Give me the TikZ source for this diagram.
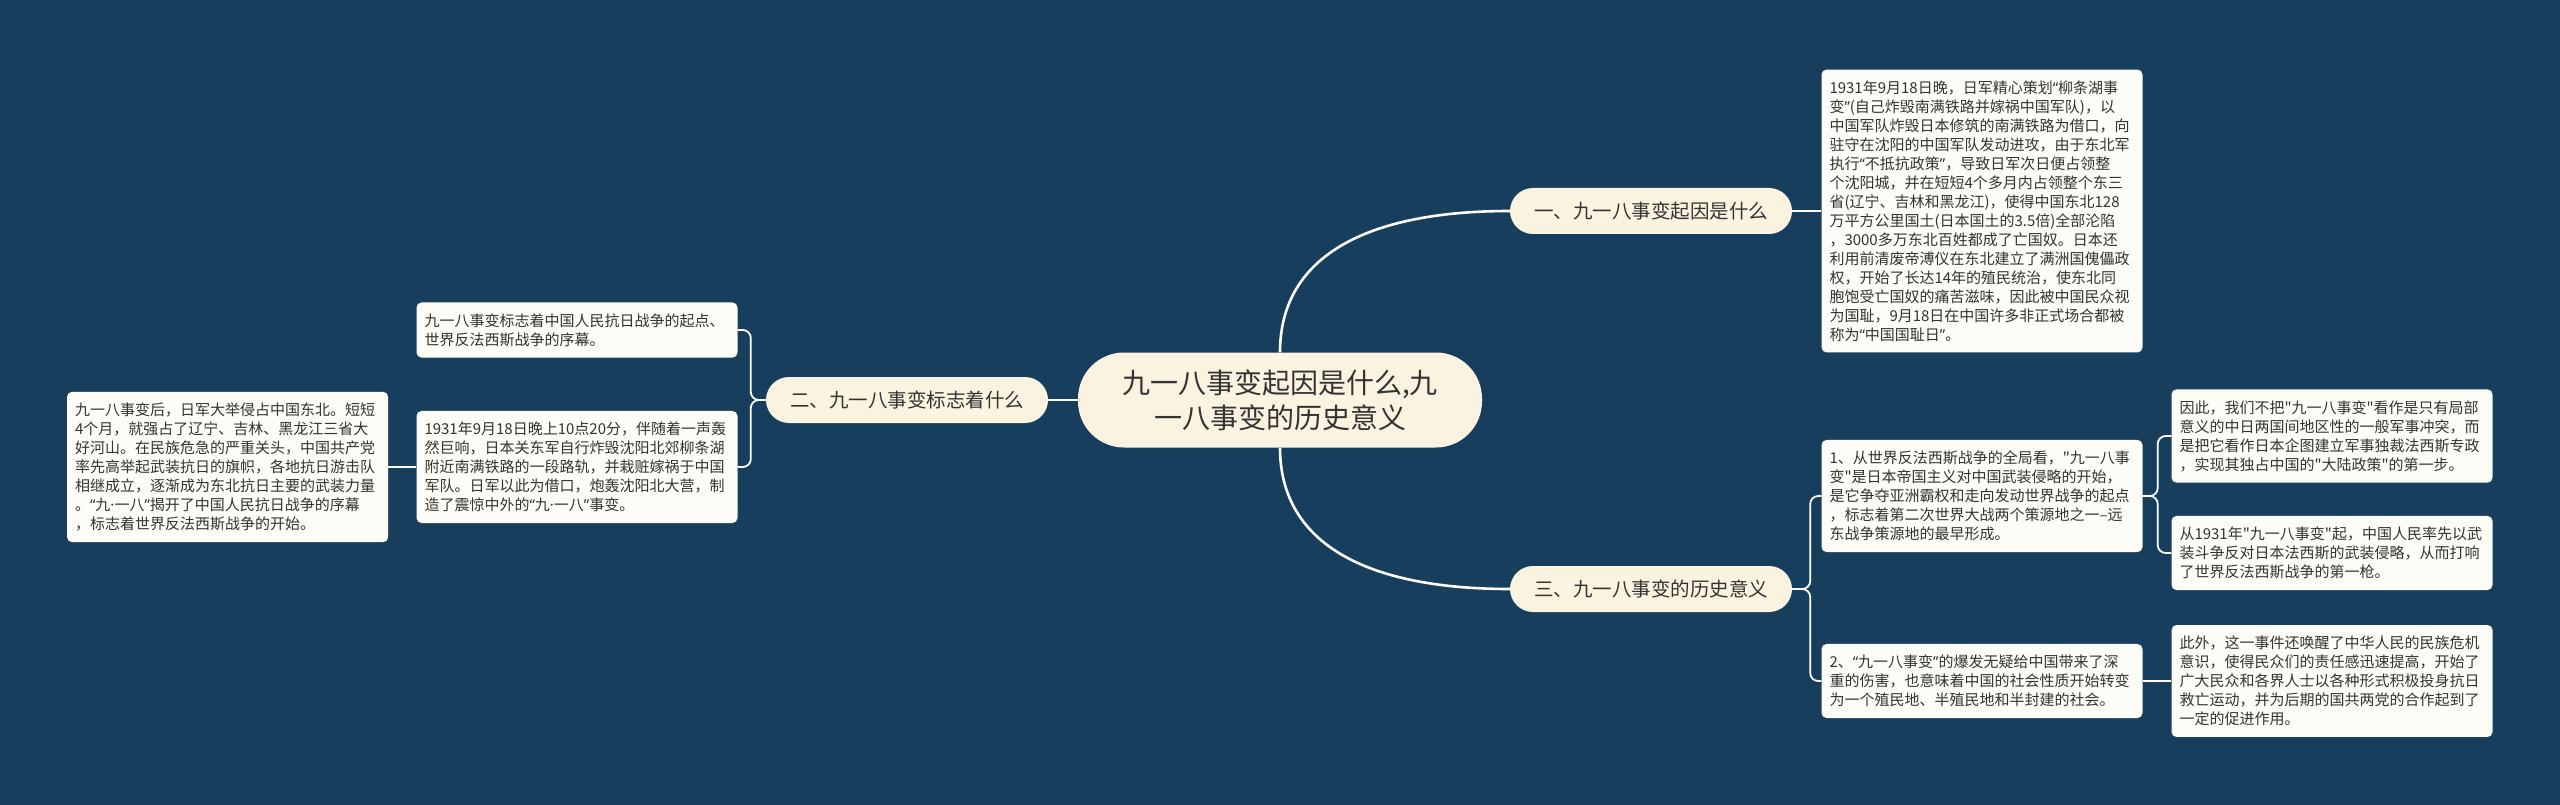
\documentclass[tikz,border=0pt]{standalone}
\usepackage{fontspec}
\setmainfont{Noto Sans CJK SC}[Ligatures=TeXOff]
\newfontfamily\westfont{Noto Sans}
\newcommand\openq{{\westfont “}}
\newcommand\closeq{{\westfont ”}}
\newcommand\middot{{\westfont ·}}
\usetikzlibrary{
  calc,
  positioning
}
\definecolor{mapNavy}{HTML}{183E5E}
\definecolor{mapInk}{HTML}{333333}
\definecolor{mapCream}{HTML}{FAF3E0}
\definecolor{mapPaper}{HTML}{FDFCF6}
\definecolor{mapLine}{HTML}{FFFFFF}
\tikzset{
  every node/.style={text=mapInk},
  topic/.style={
    fill=mapCream,
    rounded corners=46pt,
    minimum width=404pt,
    minimum height=95pt,
    align=center,
    font=\fontsize{28}{35}\selectfont
  },
  branch/.style={
    fill=mapCream,
    rounded corners=23pt,
    minimum width=282pt,
    minimum height=46pt,
    font=\fontsize{19.5}{23}\selectfont
  },
  leaf/.style={
    fill=mapPaper,
    rounded corners=5pt,
    text width=305pt,
    inner xsep=8pt,
    inner ysep=11pt,
    align=left,
    font=\fontsize{15}{19}\selectfont
  },
  link/.style={
    line width=2.6pt,
    draw=mapLine
  },
  twig/.style={
    line width=1.8pt,
    draw=mapLine,
    rounded corners=8pt
  }
}

\begin{document}
\begin{tikzpicture}[x=1pt,y=-1pt]
  \fill[mapNavy] (0,0) rectangle (2560,805);
  \useasboundingbox (0,0) rectangle (2560,805);

  % centre and main branches
  \node[topic] (root) at (1280,400) {九一八事变起因是什么,九\\一八事变的历史意义};
  \node[branch] (cause) at (1651,211) {一、九一八事变起因是什么};
  \node[branch] (meaning) at (1651,589) {三、九一八事变的历史意义};
  \node[branch] (sign) at (907,400) {二、九一八事变标志着什么};

  % right side
  \node[leaf] (causeText) at (1982,211) {
    1931年9月18日晚，日军精心策划\openq 柳条湖事\\
    变\closeq(自己炸毁南满铁路并嫁祸中国军队)，以\\
    中国军队炸毁日本修筑的南满铁路为借口，向\\
    驻守在沈阳的中国军队发动进攻，由于东北军\\
    执行\openq 不抵抗政策\closeq ，导致日军次日便占领整\\
    个沈阳城，并在短短4个多月内占领整个东三\\
    省(辽宁、吉林和黑龙江)，使得中国东北128\\
    万平方公里国土(日本国土的3.5倍)全部沦陷\\
    ，3000多万东北百姓都成了亡国奴。日本还\\
    利用前清废帝溥仪在东北建立了满洲国傀儡政\\
    权，开始了长达14年的殖民统治，使东北同\\
    胞饱受亡国奴的痛苦滋味，因此被中国民众视\\
    为国耻，9月18日在中国许多非正式场合都被\\
    称为\openq 中国国耻日\closeq 。
  };
  \node[leaf] (worldWar) at (1982,496) {
    1、从世界反法西斯战争的全局看，"九一八事\\
    变"是日本帝国主义对中国武装侵略的开始，\\
    是它争夺亚洲霸权和走向发动世界战争的起点\\
    ，标志着第二次世界大战两个策源地之一–远\\
    东战争策源地的最早形成。
  };
  \node[leaf] (society) at (1982,681) {
    2、\openq 九一八事变\closeq 的爆发无疑给中国带来了深\\
    重的伤害，也意味着中国的社会性质开始转变\\
    为一个殖民地、半殖民地和半封建的社会。
  };
  \node[leaf] (firstStep) at (2332,436) {
    因此，我们不把"九一八事变"看作是只有局部\\
    意义的中日两国间地区性的一般军事冲突，而\\
    是把它看作日本企图建立军事独裁法西斯专政\\
    ，实现其独占中国的"大陆政策"的第一步。
  };
  \node[leaf] (firstShot) at (2332,553) {
    从1931年"九一八事变"起，中国人民率先以武\\
    装斗争反对日本法西斯的武装侵略，从而打响\\
    了世界反法西斯战争的第一枪。
  };
  \node[leaf] (awaken) at (2332,681) {
    此外，这一事件还唤醒了中华人民的民族危机\\
    意识，使得民众们的责任感迅速提高，开始了\\
    广大民众和各界人士以各种形式积极投身抗日\\
    救亡运动，并为后期的国共两党的合作起到了\\
    一定的促进作用。
  };

  % left side
  \node[leaf] (start) at (577,330) {
    九一八事变标志着中国人民抗日战争的起点、\\
    世界反法西斯战争的序幕。
  };
  \node[leaf] (night) at (577,467) {
    1931年9月18日晚上10点20分，伴随着一声轰\\
    然巨响，日本关东军自行炸毁沈阳北郊柳条湖\\
    附近南满铁路的一段路轨，并栽赃嫁祸于中国\\
    军队。日军以此为借口，炮轰沈阳北大营，制\\
    造了震惊中外的\openq 九\middot 一八\closeq 事变。
  };
  \node[leaf, left=28pt of night] (after) {
    九一八事变后，日军大举侵占中国东北。短短\\
    4个月，就强占了辽宁、吉林、黑龙江三省大\\
    好河山。在民族危急的严重关头，中国共产党\\
    率先高举起武装抗日的旗帜，各地抗日游击队\\
    相继成立，逐渐成为东北抗日主要的武装力量\\
    。\openq 九\middot 一八\closeq 揭开了中国人民抗日战争的序幕\\
    ，标志着世界反法西斯战争的开始。
  };

  % connectors
  \draw[link] (root.north) .. controls +(0,-92) and +(-150,0) .. (cause.west);
  \draw[link] (root.south) .. controls +(0,92) and +(-150,0) .. (meaning.west);
  \draw[link] (root.west) -- (sign.east);
  \draw[twig] (cause.east) -- (causeText.west);
  \draw[twig] (meaning.east) -- ++(18,0) |- (worldWar.west);
  \draw[twig] (meaning.east) -- ++(18,0) |- (society.west);
  \draw[twig] (worldWar.east) -- ++(15,0) |- (firstStep.west);
  \draw[twig] (worldWar.east) -- ++(15,0) |- (firstShot.west);
  \draw[twig] (society.east) -- (awaken.west);
  \draw[twig] (sign.west) -- ++(-15,0) |- (start.east);
  \draw[twig] (sign.west) -- ++(-15,0) |- (night.east);
  \draw[twig] (night.west) -- (after.east);
\end{tikzpicture}
\end{document}
